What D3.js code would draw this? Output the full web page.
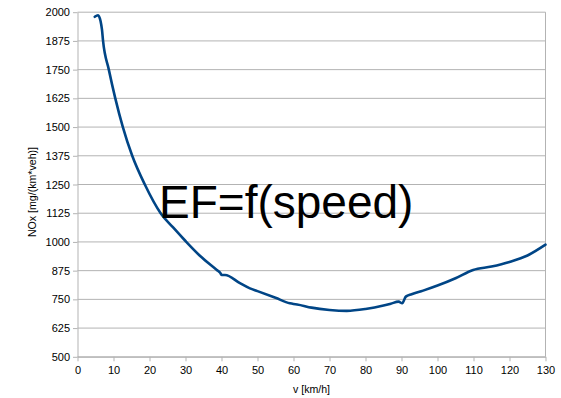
<!DOCTYPE html>
<html>
<head>
<meta charset="utf-8">
<script src="https://cdn.jsdelivr.net/npm/d3@7"></script>
<style>
  body { margin: 0; background: #ffffff; }
  svg { display: block; font-family: "Liberation Sans", Arial, sans-serif; }
</style>
</head>
<body>
<div id="chart"></div>
<script>
// Emission factor curve
const speed = [4.8, 5.7, 6.4, 6.8, 7.1, 8.7, 10.5, 12.6, 15.2, 18.7, 23.1, 26.5, 30, 34.0,
  38.7, 39.6, 40.1, 41.0, 45, 47.9, 50, 55, 59.0, 60.0, 61.0, 65, 70, 74.8, 80, 85, 87, 89.2, 90.2,
  91.2, 92.8, 96, 100, 105, 109.9, 115, 120, 125, 130];
const nox = [1980, 1987, 1962, 1924, 1875, 1750, 1625, 1500, 1375, 1250, 1125, 1064, 1004, 940,
  878, 866, 856, 856, 822, 798, 786, 757, 733, 730, 728, 714, 704, 700, 708, 723, 731, 740, 733,
  762, 772, 788, 810, 842, 878, 893, 913, 941, 988];

const yTicks = [500, 625, 750, 875, 1000, 1125, 1250, 1375, 1500, 1625, 1750, 1875, 2000];
const xTicks = [0, 10, 20, 30, 40, 50, 60, 70, 80, 90, 100, 110, 120, 130];

const width = 561;
const height = 398;
const margin = { top: 12.2, right: 15.5, bottom: 41.2, left: 77.5 };

const svg = d3.select('#chart')
  .append('svg')
  .attr('width', width)
  .attr('height', height);

const x = d3.scaleLinear().domain([0, 130]).range([margin.left, width - margin.right]);
const y = d3.scaleLinear().domain([500, 2000]).range([height - margin.bottom, margin.top]);

const gridColor = '#b3b3b3';

// horizontal gridlines
svg.append('g')
  .selectAll('line')
  .data(yTicks)
  .enter()
  .append('line')
  .attr('x1', x(0))
  .attr('x2', x(130))
  .attr('y1', d => y(d))
  .attr('y2', d => y(d))
  .attr('stroke', gridColor)
  .attr('stroke-width', 1);

// right border
svg.append('line')
  .attr('x1', x(130)).attr('x2', x(130))
  .attr('y1', y(2000)).attr('y2', y(500))
  .attr('stroke', gridColor);

// y axis
const yAxis = svg.append('g')
  .attr('transform', `translate(${x(0)},0)`)
  .call(d3.axisLeft(y).tickValues(yTicks).tickFormat(d3.format('d'))
    .tickSize(4.5).tickPadding(3).tickSizeOuter(0));

// x axis
const xAxis = svg.append('g')
  .attr('transform', `translate(0,${y(500)})`)
  .call(d3.axisBottom(x).tickValues(xTicks).tickFormat(d3.format('d'))
    .tickSize(4.5).tickPadding(5).tickSizeOuter(0));

[yAxis, xAxis].forEach(a => {
  a.select('.domain').attr('stroke', gridColor);
  a.selectAll('.tick line').attr('stroke', gridColor);
  a.selectAll('.tick text')
    .style('font-family', '"Liberation Sans", Arial, sans-serif')
    .style('font-size', '11px')
    .attr('fill', '#000000');
});

// curve
const line = d3.line()
  .x((d, i) => x(speed[i]))
  .y(d => y(d))
  .curve(d3.curveMonotoneX);

svg.append('path')
  .datum(nox)
  .attr('d', line)
  .attr('fill', 'none')
  .attr('stroke', '#004586')
  .attr('stroke-width', 2.6)
  .attr('stroke-linejoin', 'round')
  .attr('stroke-linecap', 'round');

// axis titles
svg.append('text')
  .attr('x', (x(0) + x(130)) / 2)
  .attr('y', 393)
  .attr('text-anchor', 'middle')
  .style('font-size', '10.6px')
  .text('v [km/h]');

svg.append('text')
  .attr('transform', `translate(36,192) rotate(-90)`)
  .attr('text-anchor', 'middle')
  .style('font-size', '10.6px')
  .text('NOx [mg/(km*veh)]');

// big label
svg.append('text')
  .attr('x', 159)
  .attr('y', 218)
  .style('font-size', '46px')
  .attr('fill', '#000000')
  .text('EF=f(speed)');
</script>
</body>
</html>
